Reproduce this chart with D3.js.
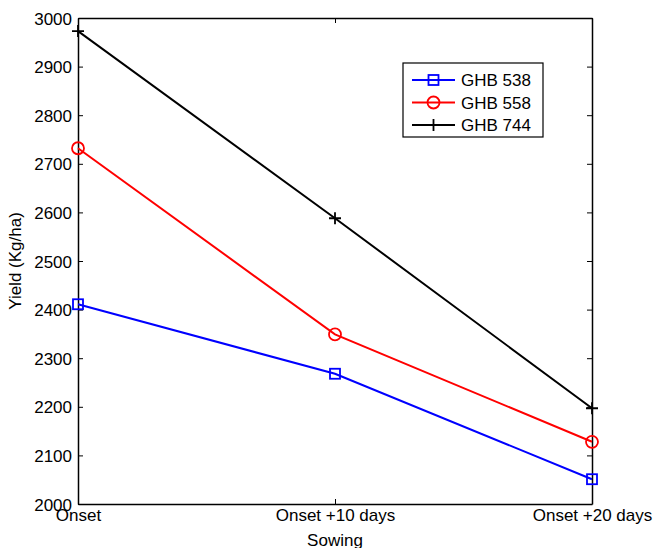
<!DOCTYPE html>
<html>
<head>
<meta charset="utf-8">
<script src="https://cdn.jsdelivr.net/npm/d3@7"></script>
<style>
  html, body { margin: 0; padding: 0; background: #fff; }
  svg { display: block; font-family: Arial, "Liberation Sans", sans-serif; }
</style>
</head>
<body>
<svg id="chart" width="653" height="548"></svg>
<script>
// Sowing dates on the x axis
const categories = ["Onset", "Onset +10 days", "Onset +20 days"];
// Grain yield (Kg/ha) per variety
const ghb538 = [2411, 2268, 2051];
const ghb558 = [2732, 2349, 2128];
const ghb744 = [2973, 2588, 2197];
const yTicks = [2000, 2100, 2200, 2300, 2400, 2500, 2600, 2700, 2800, 2900, 3000];

const series = [
  { name: "GHB 538", values: ghb538, color: "#0000ff", marker: "square" },
  { name: "GHB 558", values: ghb558, color: "#ff0000", marker: "circle" },
  { name: "GHB 744", values: ghb744, color: "#000000", marker: "plus" }
];

const svg = d3.select("#chart");
const plotLeft = 78, plotRight = 592, plotTop = 18, plotBottom = 504;

const x = d3.scalePoint().domain(categories).range([plotLeft, plotRight]);
const y = d3.scaleLinear().domain([2000, 3000]).range([plotBottom, plotTop]);

const fontSize = 17;

// axes: ticks point inward on all four sides
const axisLeft = d3.axisLeft(y).tickValues(yTicks).tickSizeInner(-5).tickSizeOuter(0).tickPadding(6).tickFormat(d3.format("d"));
const axisRight = d3.axisRight(y).tickValues(yTicks).tickSizeInner(-5).tickSizeOuter(0).tickFormat("");
const axisBottom = d3.axisBottom(x).tickSizeInner(-5).tickSizeOuter(0).tickPadding(8);
const axisTop = d3.axisTop(x).tickSizeInner(-5).tickSizeOuter(0).tickFormat("");

function styleAxis(g) {
  g.selectAll("path").attr("stroke", "#000").attr("stroke-width", 1.5);
  g.selectAll("line").attr("stroke", "#000").attr("stroke-width", 1);
  g.selectAll("text").attr("fill", "#000").style("font-size", fontSize + "px")
    .style("font-family", "Arial, 'Liberation Sans', sans-serif");
}

svg.append("g").attr("transform", `translate(${plotLeft},0)`).call(axisLeft).call(styleAxis)
  .selectAll("text").attr("dy", "0.36em");
svg.append("g").attr("transform", `translate(${plotRight},0)`).call(axisRight).call(styleAxis);
svg.append("g").attr("transform", `translate(0,${plotBottom})`).call(axisBottom).call(styleAxis)
  .selectAll("text").attr("dy", "0.55em");
svg.append("g").attr("transform", `translate(0,${plotTop})`).call(axisTop).call(styleAxis);

// axis titles
svg.append("text")
  .attr("x", (plotLeft + plotRight) / 2).attr("y", 546)
  .attr("text-anchor", "middle").style("font-size", fontSize + "px")
  .text("Sowing");
svg.append("text")
  .attr("transform", `translate(21,${(plotTop + plotBottom) / 2}) rotate(-90)`)
  .attr("text-anchor", "middle").style("font-size", fontSize + "px")
  .text("Yield (Kg/ha)");

// markers
function drawMarker(g, type, cx, cy, color) {
  if (type === "square") {
    g.append("rect").attr("x", cx - 5).attr("y", cy - 5).attr("width", 10).attr("height", 10)
      .attr("fill", "none").attr("stroke", color).attr("stroke-width", 1.8);
  } else if (type === "circle") {
    g.append("circle").attr("cx", cx).attr("cy", cy).attr("r", 6)
      .attr("fill", "none").attr("stroke", color).attr("stroke-width", 1.8);
  } else {
    g.append("path").attr("d", `M${cx - 6},${cy}H${cx + 6}M${cx},${cy - 6}V${cy + 6}`)
      .attr("stroke", color).attr("stroke-width", 1.8);
  }
}

const line = d3.line().x((d, i) => x(categories[i])).y(d => y(d));

series.forEach(s => {
  const g = svg.append("g");
  g.append("path").datum(s.values).attr("d", line)
    .attr("fill", "none").attr("stroke", s.color).attr("stroke-width", 2);
  s.values.forEach((v, i) => drawMarker(g, s.marker, x(categories[i]), y(v), s.color));
});

// legend
const lg = svg.append("g");
lg.append("rect").attr("x", 403).attr("y", 63).attr("width", 140).attr("height", 74)
  .attr("fill", "#fff").attr("stroke", "#000").attr("stroke-width", 1.2);
series.forEach((s, i) => {
  const ly = 80 + i * 22.5;
  lg.append("line").attr("x1", 412).attr("x2", 455).attr("y1", ly).attr("y2", ly)
    .attr("stroke", s.color).attr("stroke-width", 2);
  drawMarker(lg, s.marker, 433.5, ly, s.color);
  lg.append("text").attr("x", 461).attr("y", ly).attr("dy", "0.36em")
    .style("font-size", fontSize + "px").text(s.name);
});
</script>
</body>
</html>
